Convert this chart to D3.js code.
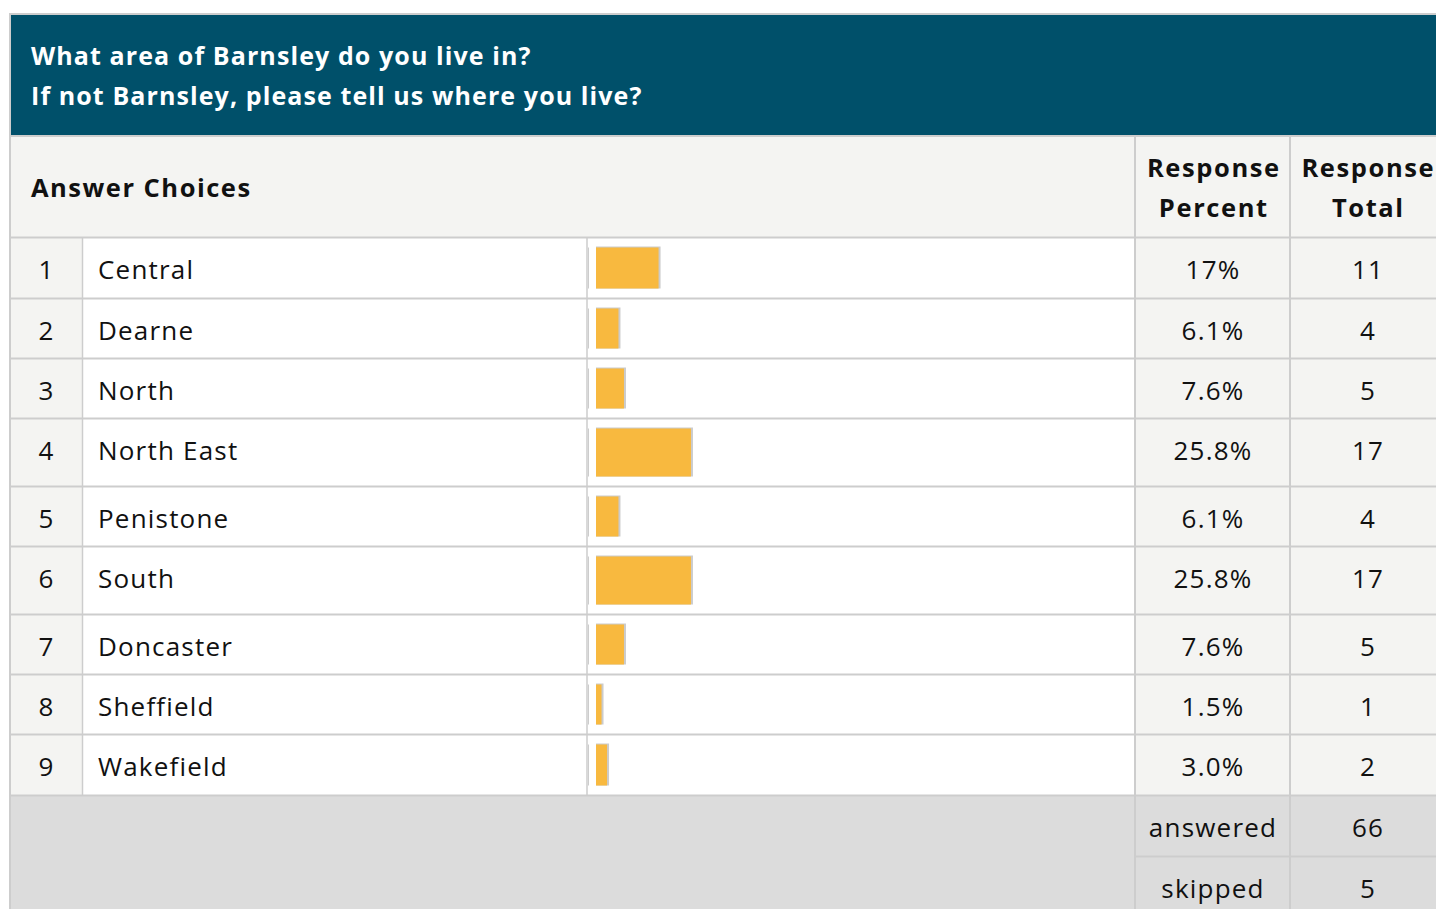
<!DOCTYPE html>
<html>
<head>
<meta charset="utf-8">
<script src="https://cdn.jsdelivr.net/npm/d3@7"></script>
<style>
  body { margin: 0; background: #fff; }
  svg { display: block; font-family: 'Open Sans', sans-serif; }
</style>
</head>
<body>
<svg></svg>
<script>
// survey data
const titleLines = ['What area of Barnsley do you live in?', 'If not Barnsley, please tell us where you live?'];
const choices = ['Central', 'Dearne', 'North', 'North East', 'Penistone', 'South', 'Doncaster', 'Sheffield', 'Wakefield'];
const percents = [17, 6.1, 7.6, 25.8, 6.1, 25.8, 7.6, 1.5, 3.0];
const percentLabels = ['17%', '6.1%', '7.6%', '25.8%', '6.1%', '25.8%', '7.6%', '1.5%', '3.0%'];
const totals = [11, 4, 5, 17, 4, 17, 5, 1, 2];
const summaryLabels = ['answered', 'skipped'];
const summaryValues = [66, 5];

const width = 1436, height = 909;
const rowHeights = [61, 60, 60, 68, 60, 68, 60, 60, 61];
const headerBottom = 237.5;
const cols = {left: 10, num: 82.5, bar: 587, pct: 1135, tot: 1290, right: 1436};
const lineColor = '#cdcdcd', headBg = '#f4f4f2', footBg = '#dcdcdc';

const svg = d3.select('svg').attr('width', width).attr('height', height);

// row positions
let rowTops = [];
let acc = headerBottom;
rowHeights.forEach(h => { rowTops.push(acc); acc += h; });
const bodyBottom = acc;

const x = d3.scaleLinear().domain([0, 100]).range([0, 368]);

// title band
svg.append('rect').attr('x', cols.left).attr('y', 14).attr('width', width).attr('height', 122)
  .style('fill', '#00506a');
svg.append('line').attr('x1', cols.left - 1).attr('x2', width).attr('y1', 14).attr('y2', 14)
  .style('stroke', lineColor).style('stroke-width', 2);
svg.append('line').attr('x1', cols.left).attr('x2', width).attr('y1', 136).attr('y2', 136)
  .style('stroke', lineColor).style('stroke-width', 2);

svg.selectAll('.title')
  .data(titleLines)
  .enter().append('text')
  .attr('class', 'title')
  .attr('x', 31)
  .attr('y', (d, i) => 65 + i * 40)
  .style('font-size', '25px')
  .style('font-weight', 'bold')
  .style('letter-spacing', '1.1px')
  .style('fill', '#fff')
  .text(d => d);

// header
svg.append('rect').attr('x', cols.left).attr('y', 137).attr('width', width).attr('height', headerBottom - 137)
  .style('fill', headBg);
svg.append('text').attr('x', 31).attr('y', 197)
  .style('font-size', '25.5px').style('font-weight', 'bold').style('letter-spacing', '1.5px').style('fill', '#111')
  .text('Answer Choices');
[[cols.pct, cols.tot, 'Percent'], [cols.tot, 1444, 'Total']].forEach(c => {
  const cx = (c[0] + c[1]) / 2 + 1.3;
  const t = svg.append('text').attr('text-anchor', 'middle')
    .style('font-size', '25.5px').style('font-weight', 'bold').style('letter-spacing', '1.6px').style('fill', '#111');
  t.append('tspan').attr('x', cx).attr('y', 177).text('Response');
  t.append('tspan').attr('x', cx).attr('y', 217).text(c[2]);
});

// body rows
const rows = svg.selectAll('.row')
  .data(choices)
  .enter().append('g')
  .attr('class', 'row')
  .attr('transform', (d, i) => 'translate(0,' + rowTops[i] + ')');

rows.append('rect').attr('x', cols.left).attr('width', cols.num - cols.left)
  .attr('height', (d, i) => rowHeights[i]).style('fill', headBg);
rows.append('rect').attr('x', cols.num).attr('width', cols.pct - cols.num)
  .attr('height', (d, i) => rowHeights[i]).style('fill', '#fff');
rows.append('rect').attr('x', cols.pct).attr('width', width - cols.pct)
  .attr('height', (d, i) => rowHeights[i]).style('fill', headBg);

// bar shadow, bar and the small edge line left of it
rows.append('line')
  .attr('x1', cols.bar + 1.5).attr('x2', cols.bar + 1.5)
  .attr('y1', 10).attr('y2', (d, i) => rowHeights[i] - 10)
  .style('stroke', lineColor).style('stroke-width', 1);
rows.append('rect')
  .attr('x', 596).attr('y', 9)
  .attr('width', (d, i) => x(percents[i]) + 2)
  .attr('height', (d, i) => rowHeights[i] - 19)
  .style('fill', '#cbcbcb');
rows.append('rect')
  .attr('x', 596).attr('y', 10)
  .attr('width', (d, i) => x(percents[i]))
  .attr('height', (d, i) => rowHeights[i] - 20)
  .style('fill', '#f8b93f');

const rowText = (sel, fn, xpos, anchor) => sel.append('text')
  .attr('x', xpos).attr('y', 41)
  .attr('text-anchor', anchor)
  .style('font-size', '26px').style('letter-spacing', '1.2px').style('fill', '#111')
  .text(fn);

rowText(rows, (d, i) => i + 1, 46.6, 'middle');
rowText(rows, d => d, 98, 'start');
rowText(rows, (d, i) => percentLabels[i], 1213, 'middle');
rowText(rows, (d, i) => totals[i], 1368, 'middle');

// footer
svg.append('rect').attr('x', cols.left).attr('y', bodyBottom).attr('width', width).attr('height', height - bodyBottom)
  .style('fill', footBg);
const foot = svg.selectAll('.foot')
  .data(summaryLabels)
  .enter().append('g')
  .attr('class', 'foot')
  .attr('transform', (d, i) => 'translate(0,' + (bodyBottom + i * 61) + ')');
rowText(foot, d => d, 1213, 'middle');
rowText(foot, (d, i) => summaryValues[i], 1368, 'middle');

// horizontal grid lines
const hLines = rowTops.concat([bodyBottom]);
svg.selectAll('.hline')
  .data(hLines)
  .enter().append('line')
  .attr('x1', cols.left).attr('x2', width)
  .attr('y1', d => d).attr('y2', d => d)
  .style('stroke', lineColor).style('stroke-width', 2);
svg.append('line').attr('x1', cols.pct).attr('x2', width)
  .attr('y1', bodyBottom + 61).attr('y2', bodyBottom + 61)
  .style('stroke', lineColor).style('stroke-width', 2);

// vertical grid lines
svg.append('line').attr('x1', cols.left).attr('x2', cols.left).attr('y1', 13).attr('y2', height)
  .style('stroke', lineColor).style('stroke-width', 2);
[cols.num, cols.bar].forEach(cx => {
  svg.append('line').attr('x1', cx).attr('x2', cx).attr('y1', headerBottom).attr('y2', bodyBottom)
    .style('stroke', lineColor).style('stroke-width', 1.5);
});
[cols.pct, cols.tot].forEach(cx => {
  svg.append('line').attr('x1', cx).attr('x2', cx).attr('y1', 137).attr('y2', height)
    .style('stroke', lineColor).style('stroke-width', 2);
});
</script>
</body>
</html>
